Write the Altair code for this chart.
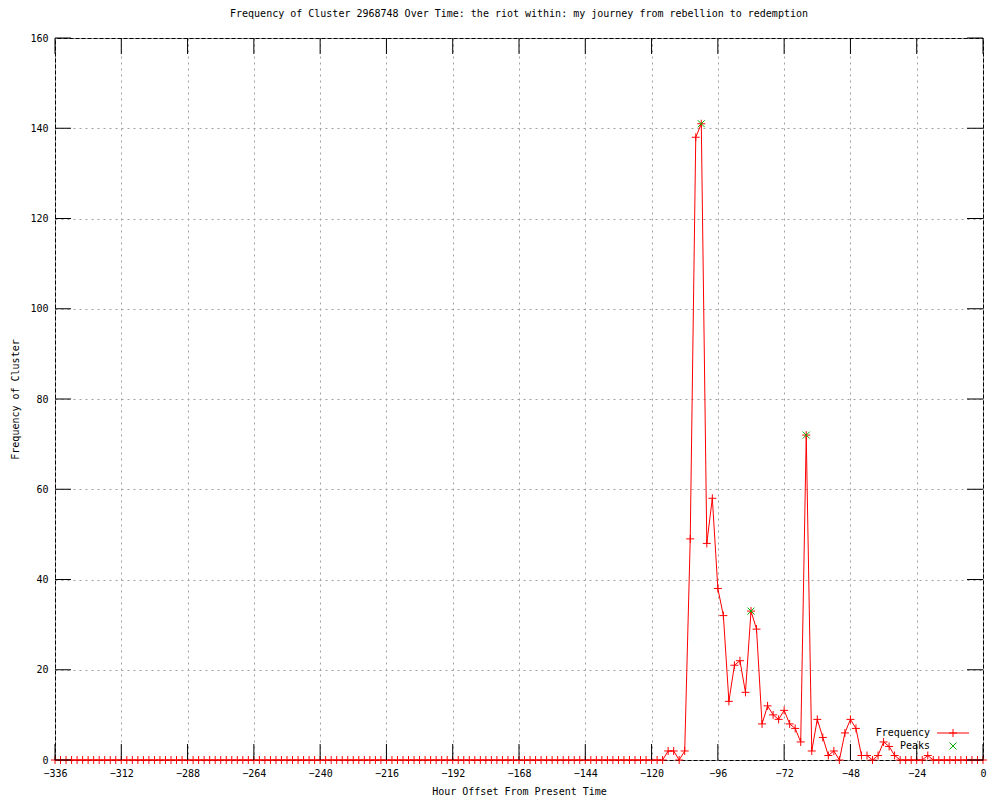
import altair as alt
import pandas as pd

# ---------------- data ----------------
hours = list(range(-336, 1, 2))

freq = [
    0, 0, 0, 0, 0, 0, 0, 0, 0, 0,
    0, 0, 0, 0, 0, 0, 0, 0, 0, 0,
    0, 0, 0, 0, 0, 0, 0, 0, 0, 0,
    0, 0, 0, 0, 0, 0, 0, 0, 0, 0,
    0, 0, 0, 0, 0, 0, 0, 0, 0, 0,
    0, 0, 0, 0, 0, 0, 0, 0, 0, 0,
    0, 0, 0, 0, 0, 0, 0, 0, 0, 0,
    0, 0, 0, 0, 0, 0, 0, 0, 0, 0,
    0, 0, 0, 0, 0, 0, 0, 0, 0, 0,
    0, 0, 0, 0, 0, 0, 0, 0, 0, 0,
    0, 0, 0, 0, 0, 0,
    # -124 .. 0
    0, 0, 0, 0, 0, 2, 2, 0, 2, 49,
    138, 141, 48, 58, 38, 32, 13, 21, 22, 15,
    33, 29, 8, 12, 10, 9, 11, 8, 7, 4,
    72, 2, 9, 5, 1, 2, 0, 6, 9, 7,
    1, 1, 0, 1, 4, 3, 1, 0, 0, 0,
    0, 0, 1, 0, 0, 0, 0, 0, 0, 0,
    0, 0, 0,
]
assert len(freq) == len(hours)

peak_hours = [-102, -84, -64]
peak_freq = [141, 33, 72]

x_ticks = [-336, -312, -288, -264, -240, -216, -192, -168, -144, -120, -96, -72, -48, -24, 0]
y_ticks = [0, 20, 40, 60, 80, 100, 120, 140, 160]

title_text = "Frequency of Cluster 2968748 Over Time: the riot within: my journey from rebellion to redemption"

# ---------------- styling ----------------
W, H = 928, 722
FONT = "DejaVu Sans Mono"
RED = "#ff0000"
GREEN = "#00b000"
PLUS = "M-1,0L1,0M0,-1L0,1"
XSHAPE = "M-1,-1L1,1M-1,1L1,-1"
TICK = 16

df = pd.DataFrame({"hour": hours, "freq": freq})
peaks = pd.DataFrame({"hour": peak_hours, "freq": peak_freq})
xt = pd.DataFrame({"t": x_ticks})
yt = pd.DataFrame({"t": y_ticks})
one = pd.DataFrame({"a": [0]})

xscale = alt.Scale(domain=[-336, 0], nice=False, zero=False)
yscale = alt.Scale(domain=[0, 160], nice=False)

xaxis = alt.Axis(values=x_ticks, title="Hour Offset From Present Time", grid=True,
                 gridDash=[2, 4], gridColor="#a0a0a0", gridOpacity=1, tickSize=0,
                 domain=False, labelPadding=8, titlePadding=8, labelFlush=False)
yaxis = alt.Axis(values=y_ticks, title="Frequency of Cluster", grid=True,
                 gridDash=[2, 4], gridColor="#a0a0a0", gridOpacity=1, tickSize=0,
                 domain=False, labelPadding=7, titlePadding=9, labelFlush=False)

line = alt.Chart(df).mark_line(color=RED, strokeWidth=1).encode(
    x=alt.X("hour:Q", scale=xscale, axis=xaxis),
    y=alt.Y("freq:Q", scale=yscale, axis=yaxis),
)
pts = alt.Chart(df).mark_point(shape=PLUS, color=RED, size=64, strokeWidth=1,
                               filled=False, opacity=1).encode(
    x=alt.X("hour:Q", scale=xscale),
    y=alt.Y("freq:Q", scale=yscale),
)
pk = alt.Chart(peaks).mark_point(shape=XSHAPE, color=GREEN, size=49, strokeWidth=1,
                                 filled=False, opacity=1).encode(
    x=alt.X("hour:Q", scale=xscale),
    y=alt.Y("freq:Q", scale=yscale),
)

tick_bottom = alt.Chart(xt).mark_rule(color="black", strokeWidth=1).encode(
    x=alt.X("t:Q", scale=xscale), y=alt.value(H), y2=alt.value(H - TICK))
tick_top = alt.Chart(xt).mark_rule(color="black", strokeWidth=1).encode(
    x=alt.X("t:Q", scale=xscale), y=alt.value(0), y2=alt.value(TICK))
tick_left = alt.Chart(yt).mark_rule(color="black", strokeWidth=1).encode(
    y=alt.Y("t:Q", scale=yscale), x=alt.value(0), x2=alt.value(TICK))
tick_right = alt.Chart(yt).mark_rule(color="black", strokeWidth=1).encode(
    y=alt.Y("t:Q", scale=yscale), x=alt.value(W), x2=alt.value(W - TICK))

# legend (gnuplot style, inside bottom-right)
LX_TEXT, LX0, LX1, LXC = 875, 882, 914, 898
LY1, LY2 = 695, 708
leg_t1 = alt.Chart(one).mark_text(align="right", baseline="middle", font=FONT,
                                  fontSize=10, color="black").encode(
    x=alt.value(LX_TEXT), y=alt.value(LY1), text=alt.value("Frequency"))
leg_t2 = alt.Chart(one).mark_text(align="right", baseline="middle", font=FONT,
                                  fontSize=10, color="black").encode(
    x=alt.value(LX_TEXT), y=alt.value(LY2), text=alt.value("Peaks"))
leg_line = alt.Chart(one).mark_rule(color=RED, strokeWidth=1).encode(
    x=alt.value(LX0), x2=alt.value(LX1), y=alt.value(LY1))
leg_plus = alt.Chart(one).mark_point(shape=PLUS, color=RED, size=64, strokeWidth=1,
                                     filled=False, opacity=1).encode(
    x=alt.value(LXC), y=alt.value(LY1))
leg_x = alt.Chart(one).mark_point(shape=XSHAPE, color=GREEN, size=49, strokeWidth=1,
                                  filled=False, opacity=1).encode(
    x=alt.value(LXC), y=alt.value(LY2))

chart = alt.layer(
    line, pts, pk, tick_bottom, tick_top, tick_left, tick_right,
    leg_t1, leg_t2, leg_line, leg_plus, leg_x,
).properties(
    width=W, height=H,
    title=alt.TitleParams(title_text, font=FONT, fontSize=10, fontWeight="normal",
                          anchor="middle", offset=14, color="black"),
    autosize=alt.AutoSizeParams(type="none"),
    padding={"left": 47, "top": 30, "right": 9, "bottom": 40},
    background="white",
).configure_view(
    stroke="black", strokeWidth=1,
).configure_axis(
    labelFont=FONT, labelFontSize=10, labelColor="black",
    titleFont=FONT, titleFontSize=10, titleFontWeight="normal", titleColor="black",
)

chart.save("out.html", embed_options={"renderer": "svg", "actions": False})
